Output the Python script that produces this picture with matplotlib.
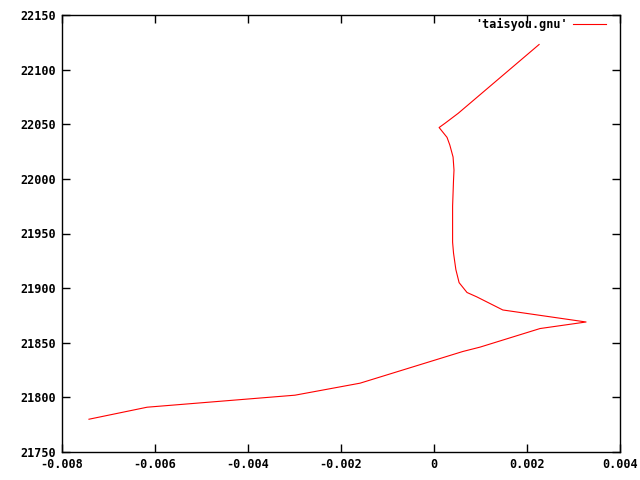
import matplotlib
matplotlib.use("Agg")
import matplotlib.pyplot as plt
from matplotlib.ticker import MultipleLocator, FuncFormatter

# values
x_vals = [-7.42e-3, -6.17e-3, -2.99e-3, -1.59e-3, 0.62e-3, 0.99e-3, 2.28e-3,
          3.27e-3, 1.48e-3, 0.92e-3, 0.71e-3, 0.54e-3, 0.47e-3, 0.42e-3,
          0.40e-3, 0.40e-3, 0.42e-3, 0.43e-3, 0.41e-3, 0.34e-3, 0.28e-3,
          0.11e-3, 0.24e-3, 0.52e-3, 2.26e-3]
y_vals = [21780, 21791, 21802, 21813, 21842, 21846, 21863,
          21869, 21880, 21892, 21896, 21905, 21917, 21932,
          21942, 21975, 21999, 22008, 22020, 22031, 22038,
          22047, 22051, 22060, 22123]
series_label = "'taisyou.gnu'"

FONT = dict(family="DejaVu Sans Mono", weight="bold", size=8.5)

fig = plt.figure(figsize=(6.4, 4.8), dpi=100)
ax = fig.add_axes([62 / 640, 28 / 480, 558 / 640, 437 / 480])

ax.plot(x_vals, y_vals, color="red", lw=0.8, label=series_label)

ax.set_xlim(-0.008, 0.004)
ax.set_ylim(21750, 22150)
ax.xaxis.set_major_locator(MultipleLocator(0.002))
ax.yaxis.set_major_locator(MultipleLocator(50))


def x_fmt(v, pos):
    if abs(v) < 1e-12:
        return "0"
    return "%g" % v


ax.xaxis.set_major_formatter(FuncFormatter(x_fmt))
ax.tick_params(direction="in", length=6, width=1, top=True, right=True,
               color="black", pad=4)
for lab in ax.get_xticklabels() + ax.get_yticklabels():
    lab.set_fontfamily(FONT["family"])
    lab.set_fontweight(FONT["weight"])
    lab.set_fontsize(FONT["size"])
for sp in ax.spines.values():
    sp.set_linewidth(1)

leg = ax.legend(loc="upper right", frameon=False, markerfirst=False,
                handlelength=2.8, borderaxespad=0, borderpad=0,
                handletextpad=0.45, prop=FONT,
                bbox_to_anchor=(1 - 14 / 558, 1 - 3 / 437))

fig.savefig("out.png", dpi=100)
